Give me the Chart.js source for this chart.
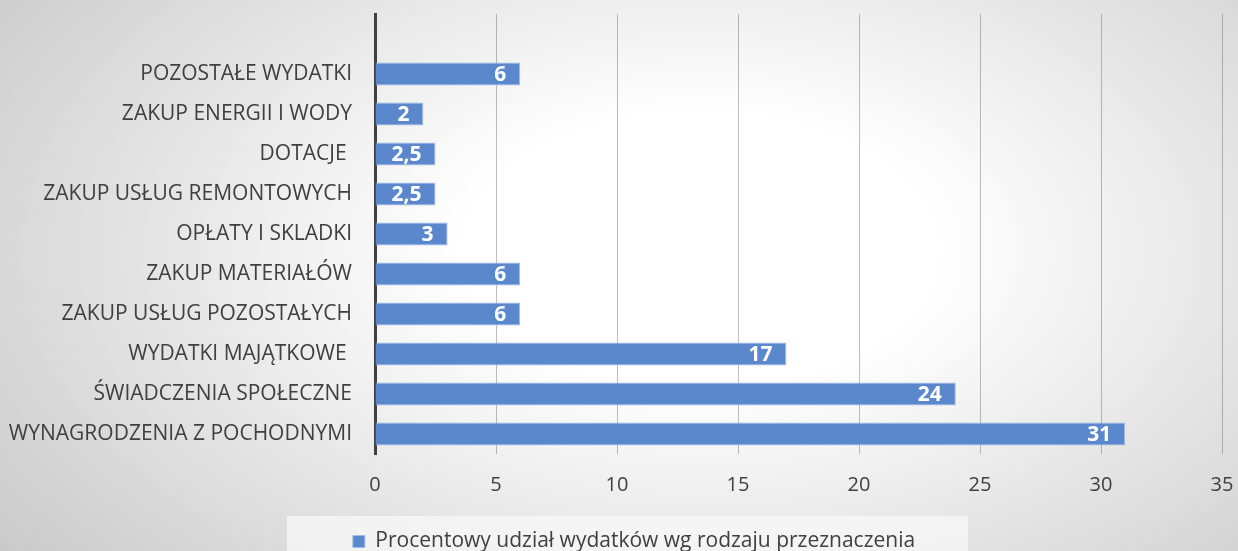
<!DOCTYPE html>
<html>
<head>
<meta charset="utf-8">
<script src="https://cdn.jsdelivr.net/npm/chart.js@4"></script>
<style>
html,body{margin:0;padding:0;}
#wrap{width:1238px;height:551px;}
</style>
</head>
<body>
<div id="wrap"><canvas id="c" width="1238" height="551"></canvas></div>
<script>
const categories = ["", "POZOSTAŁE WYDATKI", "ZAKUP ENERGII I WODY", "DOTACJE ", "ZAKUP USŁUG REMONTOWYCH", "OPŁATY I SKLADKI", "ZAKUP MATERIAŁÓW", "ZAKUP USŁUG POZOSTAŁYCH", "WYDATKI MAJĄTKOWE ", "ŚWIADCZENIA SPOŁECZNE", "WYNAGRODZENIA Z POCHODNYMI"];
const values = [null, 6, 2, 2.5, 2.5, 3, 6, 6, 17, 24, 31];
const seriesName = "Procentowy udział wydatków wg rodzaju przeznaczenia";
const xMin = 0, xMax = 35, xStep = 5;

const FONT = "'Open Sans', sans-serif";

const bgPlugin = {
  id: 'bg',
  afterLayout(chart) {
    const lg = chart.legend;
    if (lg) {
      lg.left += 23; lg.right += 23;
      lg.top += 11; lg.bottom += 11;
    }
  },
  beforeDraw(chart) {
    const ctx = chart.ctx, W = chart.width, H = chart.height;
    ctx.save();
    const cx = 700, cy = 250;
    ctx.translate(cx, cy);
    ctx.scale(1, H / W * 1.3);
    const r = W * 0.76;
    const g = ctx.createRadialGradient(0, 0, 0, 0, 0, r);
    g.addColorStop(0, '#ffffff');
    g.addColorStop(0.25, '#ffffff');
    g.addColorStop(1, '#c4c4c4');
    ctx.fillStyle = g;
    ctx.fillRect(-cx * 2, -cy * 4, W * 3, H * 8);
    ctx.restore();
    // legend box
    ctx.save();
    ctx.fillStyle = 'rgba(248,248,248,0.75)';
    ctx.fillRect(287, 516, 681, H - 516);
    ctx.restore();
  }
};

const labelPlugin = {
  id: 'vlabels',
  afterDraw(chart) {
    const ctx = chart.ctx;
    const meta = chart.getDatasetMeta(0);
    ctx.save();
    ctx.font = "bold 21px " + FONT;
    ctx.fillStyle = '#ffffff';
    ctx.textAlign = 'right';
    ctx.textBaseline = 'middle';
    meta.data.forEach((bar, i) => {
      const v = values[i];
      if (v === null) return;
      ctx.fillText(String(v).replace('.', ','), bar.x - 14, bar.y + 1);
    });
    ctx.restore();
  }
};

new Chart(document.getElementById('c'), {
  type: 'bar',
  data: {
    labels: categories,
    datasets: [{
      label: seriesName,
      data: values,
      backgroundColor: '#5b87cc',
      borderColor: '#9fbbe6',
      borderWidth: 1,
      barPercentage: 0.58,
      categoryPercentage: 1.0
    }]
  },
  options: {
    indexAxis: 'y',
    responsive: false,
    animation: false,
    devicePixelRatio: 1,
    layout: { padding: { left: 0, right: 16, top: 14, bottom: 0 } },
    plugins: {
      legend: {
        position: 'bottom',
        labels: {
          boxWidth: 12, boxHeight: 12, padding: 3,
          color: '#404040',
          font: { family: FONT, size: 21 }
        }
      },
      tooltip: { enabled: false }
    },
    scales: {
      x: {
        min: xMin, max: xMax,
        z: 1,
        ticks: { stepSize: xStep, color: '#404040', padding: 19, font: { family: FONT, size: 20 } },
        grid: { color: 'rgba(90,90,90,0.4)', lineWidth: 1, drawTicks: false },
        border: { display: false },
        afterFit(scale) {
          const lh = scale.chart.legend ? scale.chart.legend.height : 0;
          scale.height = 551 - 454 - lh;
          scale.paddingLeft = 0; scale.paddingRight = 0;
        }
      },
      y: {
        z: 1,
        ticks: { color: '#404040', padding: 15, font: { family: FONT, size: 21 } },
        grid: { display: false },
        border: { display: true, color: '#404040', width: 3 },
        afterFit(scale) {
          scale.width = 375;
          scale.paddingTop = 0; scale.paddingBottom = 0;
        }
      }
    }
  },
  plugins: [bgPlugin, labelPlugin]
});
</script>
</body>
</html>
